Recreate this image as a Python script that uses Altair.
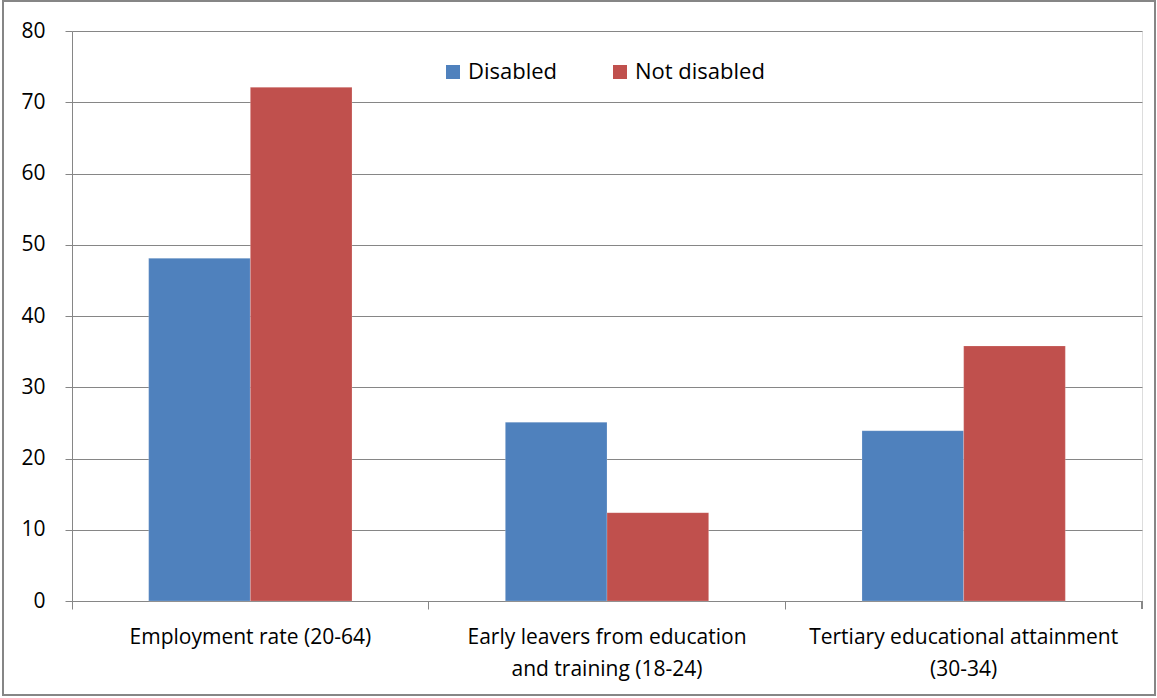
import altair as alt
import pandas as pd

categories = [
    "Employment rate (20-64)",
    "Early leavers from education\nand training (18-24)",
    "Tertiary educational attainment\n(30-34)",
]
series = ["Disabled", "Not disabled"]
disabled = [48.1, 25.1, 23.9]
not_disabled = [72.1, 12.4, 35.8]
y_ticks = [0, 10, 20, 30, 40, 50, 60, 70, 80]
colors = ["#4F81BD", "#C0504D"]

rows = []
for c, d, n in zip(categories, disabled, not_disabled):
    rows.append({"category": c, "series": series[0], "value": d})
    rows.append({"category": c, "series": series[1], "value": n})
df = pd.DataFrame(rows)

W, H = 1070, 570
FONT = "Open Sans"
GRAY = "#868686"

bars = alt.Chart(df).mark_bar(stroke="#ffffff", strokeWidth=0.5, strokeOpacity=0.4).encode(
    x=alt.X(
        "category:N",
        sort=categories,
        scale=alt.Scale(paddingInner=0, paddingOuter=0),
        axis=alt.Axis(
            title=None,
            bandPosition=0,
            labelAngle=0,
            labelExpr="split(datum.label, '\\n')",
            labelFont=FONT,
            labelFontSize=21,
            labelColor="#000000",
            labelLineHeight=32,
            labelPadding=17,
            labelBaseline="top",
            tickColor=GRAY,
            tickSize=8,
            domainColor=GRAY,
            grid=False,
            labelLimit=400,
        ),
    ),
    xOffset=alt.XOffset(
        "series:N",
        sort=series,
        scale=alt.Scale(paddingInner=0, paddingOuter=0.754),
    ),
    y=alt.Y(
        "value:Q",
        scale=alt.Scale(domain=[0, 80], nice=False),
        axis=alt.Axis(
            title=None,
            values=y_ticks,
            labelFont=FONT,
            labelFontSize=21,
            labelColor="#000000",
            labelPadding=20,
            tickColor=GRAY,
            tickSize=7,
            domainColor=GRAY,
            gridColor=GRAY,
            gridWidth=1,
        ),
    ),
    color=alt.Color(
        "series:N",
        sort=series,
        scale=alt.Scale(domain=series, range=colors),
        legend=alt.Legend(
            title=None,
            orient="none",
            direction="horizontal",
            legendX=370,
            legendY=30,
            symbolType="square",
            symbolSize=196,
            symbolStrokeWidth=0,
            labelFont=FONT,
            labelFontSize=22,
            labelColor="#000000",
            labelOffset=4,
            columnPadding=51,
            padding=0,
        ),
    ),
)

end_tick = alt.Chart(df).mark_rule(color=GRAY, strokeWidth=1).encode(
    x=alt.value(W), y=alt.value(H), y2=alt.value(H + 8)
)

border = alt.Chart(df).mark_rect(fill=None, stroke=GRAY, strokeWidth=1.5).encode(
    x=alt.value(-69), x2=alt.value(1083), y=alt.value(-30), y2=alt.value(664)
)

chart = (
    alt.layer(border, bars, end_tick)
    .properties(
        width=W,
        height=H,
        autosize=alt.AutoSizeParams(type="none"),
        padding={"left": 72, "top": 31, "right": 15, "bottom": 97},
    )
    .configure_view(stroke=None)
    .configure(background="#ffffff")
)

chart.save("out.html", embed_options={"renderer": "svg", "actions": False})
